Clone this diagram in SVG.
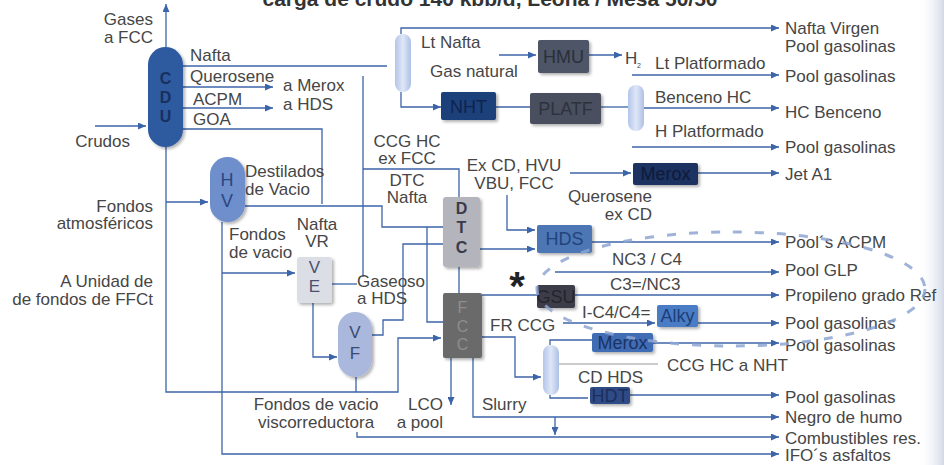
<svg xmlns="http://www.w3.org/2000/svg" width="944" height="465" viewBox="0 0 944 465">
<defs>
<marker id="ah" viewBox="0 0 8 7" refX="8" refY="3.5" markerWidth="8" markerHeight="7" markerUnits="userSpaceOnUse" orient="auto">
<path d="M0,0 L8,3.5 L0,7 z" fill="#3c64a8"/>
</marker>
<filter id="sh" x="-20%" y="-20%" width="150%" height="150%">
<feDropShadow dx="2" dy="2" stdDeviation="1.5" flood-color="#000" flood-opacity="0.3"/>
</filter>
<linearGradient id="edge" x1="0" y1="0" x2="1" y2="0">
<stop offset="0" stop-color="#ffffff" stop-opacity="0"/>
<stop offset="1" stop-color="#c6cfe0" stop-opacity="0.8"/>
</linearGradient>
<linearGradient id="ves" x1="0" y1="0" x2="1" y2="0">
<stop offset="0" stop-color="#b3c5ea"/>
<stop offset="0.5" stop-color="#dfe7f7"/>
<stop offset="1" stop-color="#adc0e6"/>
</linearGradient>
</defs>
<style>
text{font-family:"Liberation Sans",Arial,sans-serif;font-size:17px;fill:#464646}
.t{font-weight:bold;font-size:21px;fill:#333}
.c{stroke:#3c64a8;stroke-width:1.3;fill:none}
.a{marker-end:url(#ah)}
.g{stroke:#9a9a9a;stroke-width:1.1;fill:none}
.bx{filter:url(#sh)}
.bl{font-size:18px;text-anchor:middle}
.vl{font-weight:bold;font-size:15px;text-anchor:middle}
.m{text-anchor:middle}
.e{text-anchor:end}
</style>
<rect width="944" height="465" fill="#ffffff"/>
<rect x="918" y="0" width="26" height="465" fill="url(#edge)"/>
<text class="t" x="490" y="6" text-anchor="middle" textLength="455" lengthAdjust="spacingAndGlyphs">carga de crudo 140 kbb/d, Leona / Mesa 50/50</text>

<g id="connectors">
<path class="c a" d="M166 47 V4"/>
<path class="c a" d="M95 126 H146"/>
<path class="c" d="M182 66 H387"/>
<path class="c a" d="M182 87 H273"/>
<path class="c a" d="M182 108 H273"/>
<path class="c" d="M182 129 H322 V204"/>
<path class="c a" d="M166 147 V392 H398 V338 H441"/>
<path class="c a" d="M166 202 H208"/>
<path class="c" d="M245 206 H382 V227 H443"/>
<path class="c" d="M427 227 V322 H443"/>
<path class="c" d="M363 76 V277"/>
<path class="c" d="M363 169 H459 V197"/>
<path class="c" d="M459 267 V293"/>
<path class="c a" d="M480 249 H535"/>
<path class="c a" d="M507 195 V230 H535"/>
<path class="c a" d="M570 173 H631"/>
<path class="c a" d="M698 173 H779"/>
<path class="c a" d="M592 242 H779"/>
<path class="c a" d="M555 272 H779"/>
<path class="c" d="M482 295 H537"/>
<path class="c a" d="M575 295 H779"/>
<path class="c a" d="M563 323 H655"/>
<path class="c a" d="M698 323 H779"/>
<path class="c a" d="M653 343 H779"/>
<path class="c" d="M550 345 V340 H592"/>
<path class="g" d="M559 364 H658"/>
<path class="c" d="M550 395 V398 H588"/>
<path class="c a" d="M630 395 H779"/>
<path class="c a" d="M482 337 H515 V377 H541"/>
<path class="c a" d="M473 358 V417 H779"/>
<path class="c a" d="M555 417 V435"/>
<path class="c a" d="M451 358 V405"/>
<path class="c a" d="M357 432 V437 H779"/>
<path class="c a" d="M222 222 V454 H779"/>
<path class="c a" d="M222 273 H295"/>
<path class="c" d="M332 284 H357"/>
<path class="c a" d="M313 303 V357 H337"/>
<path class="c" d="M372 335 H383 V320 H403 V244 H443"/>
<path class="c" d="M356 377 V392"/>
<path class="c a" d="M401 34 V28 H779"/>
<path class="c a" d="M401 92 V107 H441"/>
<path class="c a" d="M499 55 H536"/>
<path class="c a" d="M589 55 H622"/>
<path class="c a" d="M632 75 H779"/>
<path class="c" d="M496 107 H530"/>
<path class="c" d="M601 107 H628"/>
<path class="c a" d="M644 108 H779"/>
<path class="c a" d="M632 147 H779"/>
</g>

<g id="cdu">
<rect class="bx" x="148" y="47" width="35" height="100" rx="17.5" fill="#2f5aa0"/>
<text class="vl" x="165.5" y="84" style="fill:#18305e;font-size:16px">C</text>
<text class="vl" x="165.5" y="103" style="fill:#18305e;font-size:16px">D</text>
<text class="vl" x="165.5" y="122" style="fill:#18305e;font-size:16px">U</text>
</g>
<g id="hv">
<rect class="bx" x="210" y="157" width="35" height="65" rx="17.5" fill="#6e8fcc"/>
<text class="m" x="227" y="186" style="fill:#2a4680;font-size:18px">H</text>
<text class="m" x="227" y="207" style="fill:#2a4680;font-size:18px">V</text>
</g>
<g id="ve">
<rect class="bx" x="297" y="257" width="35" height="46" rx="3" fill="#dcdee6"/>
<text class="m" x="314.5" y="273" style="fill:#4a5070">V</text>
<text class="m" x="314.5" y="292" style="fill:#4a5070">E</text>
</g>
<g id="vf">
<rect class="bx" x="338" y="312" width="34" height="65" rx="17" fill="#a9b8dc"/>
<text class="m" x="355" y="338" style="fill:#3a4a70">V</text>
<text class="m" x="355" y="359" style="fill:#3a4a70">F</text>
</g>
<g id="dtc">
<rect class="bx" x="443" y="197" width="37" height="70" rx="3" fill="#b4b4bc"/>
<text class="vl" x="461.5" y="214" style="fill:#3a3a4a;font-size:16px">D</text>
<text class="vl" x="461.5" y="233" style="fill:#3a3a4a;font-size:16px">T</text>
<text class="vl" x="461.5" y="253" style="fill:#3a3a4a;font-size:16px">C</text>
</g>
<g id="fcc">
<rect class="bx" x="443" y="293" width="39" height="65" rx="2" fill="#6b6b6b"/>
<text class="m" x="462.5" y="313" style="fill:#8e8e8e;font-size:16px">F</text>
<text class="m" x="462.5" y="332" style="fill:#8e8e8e;font-size:16px">C</text>
<text class="m" x="462.5" y="350" style="fill:#8e8e8e;font-size:16px">C</text>
</g>
<g id="sep1">
<rect x="395" y="34" width="16" height="58" rx="8" fill="url(#ves)"/>
</g>
<g id="sep2">
<rect x="628" y="85" width="16" height="46" rx="8" fill="url(#ves)"/>
</g>
<g id="sep3">
<rect x="543" y="345" width="16" height="50" rx="8" fill="url(#ves)"/>
</g>
<g id="hmu">
<rect class="bx" x="538" y="40" width="51" height="33" rx="2" fill="#4e5566"/>
<text class="bl" x="563.5" y="63" style="fill:#2a2f3c">HMU</text>
</g>
<g id="nht">
<rect class="bx" x="441" y="92" width="55" height="28" rx="2" fill="#1f3f7a"/>
<text class="bl" x="468.5" y="113" style="fill:#0f2350">NHT</text>
</g>
<g id="platf">
<rect class="bx" x="530" y="93" width="71" height="31" rx="2" fill="#4a4f5e"/>
<text class="bl" x="565.5" y="115" style="fill:#2e323d">PLATF</text>
</g>
<g id="merox1">
<rect class="bx" x="633" y="163" width="65" height="22" rx="2" fill="#1c3060"/>
<text class="bl" x="665.5" y="180" style="fill:#0e1a3a">Merox</text>
</g>
<g id="hds">
<rect class="bx" x="537" y="225" width="55" height="28" rx="2" fill="#4d76b4"/>
<text class="bl" x="564.5" y="245" style="fill:#22447a">HDS</text>
</g>
<g id="gsu">
<rect class="bx" x="537" y="285" width="38" height="23" rx="2" fill="#3c3c48"/>
<text class="bl" x="556" y="303" style="fill:#24242e">GSU</text>
</g>
<g id="alky">
<rect class="bx" x="657" y="305" width="41" height="22" rx="2" fill="#4a7cc4"/>
<text class="bl" x="677.5" y="322" style="fill:#1e3e78">Alky</text>
</g>
<g id="merox2">
<rect class="bx" x="592" y="333" width="61" height="19" rx="2" fill="#3f6cb4"/>
<text class="bl" x="622.5" y="349" style="fill:#1a3464">Merox</text>
</g>
<g id="hdt">
<rect class="bx" x="590" y="387" width="40" height="17" rx="2" fill="#2e4c86"/>
<text class="bl" x="610" y="402" style="fill:#1c2e5c">HDT</text>
</g>

<g id="labels">
<text class="e" x="153" y="25">Gases</text>
<text class="e" x="153" y="43">a FCC</text>
<text class="e" x="130" y="147">Crudos</text>
<text class="e" x="153" y="212">Fondos</text>
<text class="e" x="153" y="229">atmosféricos</text>
<text class="e" x="153" y="287">A Unidad de</text>
<text class="e" x="153" y="305">de fondos de FFCt</text>
<text x="190" y="61">Nafta</text>
<text x="190" y="82">Querosene</text>
<text x="193" y="105">ACPM</text>
<text x="193" y="125">GOA</text>
<text x="283" y="91">a Merox</text>
<text x="283" y="110">a HDS</text>
<text x="421" y="48">Lt Nafta</text>
<text x="430" y="77">Gas natural</text>
<text x="625" y="64">H</text>
<text x="637" y="68" style="font-size:7px">2</text>
<text x="655" y="69">Lt Platformado</text>
<text x="655" y="103">Benceno HC</text>
<text x="655" y="137">H Platformado</text>
<text x="245" y="177">Destilados</text>
<text x="245" y="195">de Vacio</text>
<text class="m" x="407" y="147">CCG HC</text>
<text class="m" x="407" y="164">ex FCC</text>
<text class="m" x="407" y="186">DTC</text>
<text class="m" x="407" y="203">Nafta</text>
<text class="m" x="514" y="171">Ex CD, HVU</text>
<text class="m" x="514" y="189">VBU, FCC</text>
<text class="e" x="652" y="202">Querosene</text>
<text class="e" x="652" y="220">ex CD</text>
<text class="m" x="317" y="230">Nafta</text>
<text class="m" x="317" y="247">VR</text>
<text x="229" y="240">Fondos</text>
<text x="229" y="258">de vacio</text>
<text x="357" y="287">Gaseoso</text>
<text x="357" y="304">a HDS</text>
<text x="612" y="265">NC3 / C4</text>
<text x="610" y="290">C3=/NC3</text>
<text x="517" y="300" style="font-size:40px;font-weight:bold;fill:#222;text-anchor:middle">*</text>
<text x="582" y="318">I-C4/C4=</text>
<text x="490" y="331">FR CCG</text>
<text x="667" y="371">CCG HC a NHT</text>
<text x="578" y="383">CD HDS</text>
<text x="482" y="410">Slurry</text>
<text class="e" x="443" y="410">LCO</text>
<text class="e" x="443" y="428">a pool</text>
<text class="m" x="316" y="410">Fondos de vacio</text>
<text class="m" x="316" y="428">viscorreductora</text>
<text x="785" y="34">Nafta Virgen</text>
<text x="785" y="52">Pool gasolinas</text>
<text x="785" y="82">Pool gasolinas</text>
<text x="785" y="118">HC Benceno</text>
<text x="785" y="153">Pool gasolinas</text>
<text x="785" y="180">Jet A1</text>
<text x="785" y="248">Pool´s ACPM</text>
<text x="785" y="276">Pool GLP</text>
<text x="785" y="301">Propileno grado Ref</text>
<text x="785" y="329">Pool gasolinas</text>
<text x="785" y="351">Pool gasolinas</text>
<text x="785" y="403">Pool gasolinas</text>
<text x="785" y="423">Negro de humo</text>
<text x="785" y="444">Combustibles res.</text>
<text x="785" y="461">IFO´s asfaltos</text>
</g>

<ellipse cx="731" cy="289" rx="194" ry="57" fill="none" stroke="#8ea6d2" stroke-width="3" stroke-dasharray="9 13" opacity="0.85"/>
</svg>
